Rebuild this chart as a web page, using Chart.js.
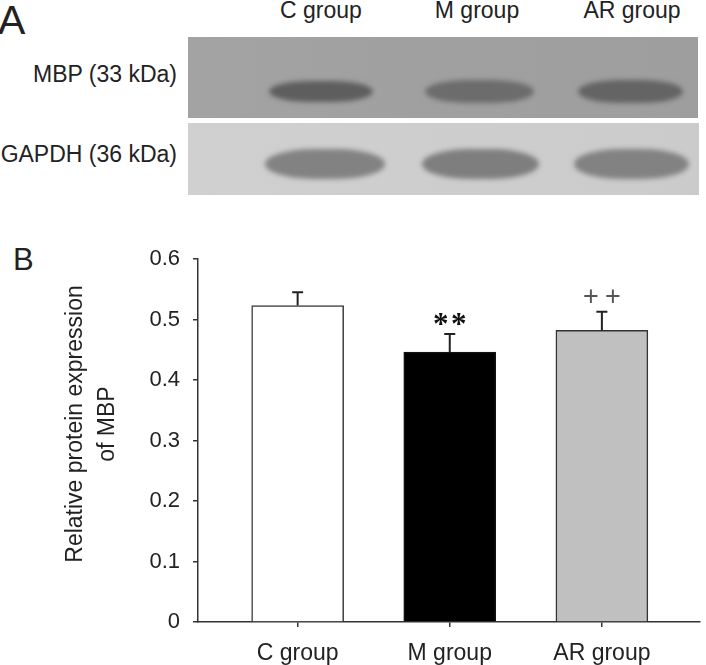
<!DOCTYPE html>
<html><head><meta charset="utf-8">
<script src="https://cdn.jsdelivr.net/npm/chart.js@4.4.0/dist/chart.umd.min.js"></script>
<style>
html,body{margin:0;padding:0;background:#fff;}
#wrap{position:relative;width:706px;height:665px;overflow:hidden;font-family:"Liberation Sans",Arial,sans-serif;color:#222;}
.t{position:absolute;white-space:nowrap;font-size:23px;line-height:23px;}
.c{text-align:center;width:200px;}
.r{text-align:right;width:200px;}
.blot{position:absolute;overflow:hidden;}
#b1{left:188px;top:37px;width:510px;height:81px;background:linear-gradient(90deg,#a3a3a3 0%,#a0a0a0 45%,#9e9e9e 100%);}
#b2{left:188px;top:123px;width:511px;height:72px;background:linear-gradient(90deg,#d0d0d0,#cbcbcb);}
.band{position:absolute;border-radius:40%/50%;filter:blur(2.5px);}
#chart{position:absolute;left:0;top:220px;}
</style></head>
<body>
<div id="wrap">
  <div class="t" style="left:-2px;top:0px;font-size:41px;line-height:41px;">A</div>
  <div class="t c" style="left:221px;top:-1px;">C group</div>
  <div class="t c" style="left:377px;top:-1px;">M group</div>
  <div class="t c" style="left:532px;top:-1px;">AR group</div>
  <div class="t r" style="left:-23px;top:63px;">MBP (33 kDa)</div>
  <div class="t r" style="left:-23px;top:143px;">GAPDH (36 kDa)</div>
  <div class="blot" id="b1">
    <div class="band" style="left:81px;top:44px;width:104px;height:21px;background:#5e5e5e;"></div>
    <div class="band" style="left:237px;top:43px;width:109px;height:23px;background:#6c6c6c;"></div>
    <div class="band" style="left:390px;top:43px;width:105px;height:23px;background:#646464;"></div>
  </div>
  <div class="blot" id="b2">
    <div class="band" style="left:77px;top:26px;width:120px;height:30px;background:#828282;"></div>
    <div class="band" style="left:234px;top:26px;width:117px;height:30px;background:#7e7e7e;"></div>
    <div class="band" style="left:386px;top:26px;width:115px;height:30px;background:#828282;"></div>
  </div>
  <div class="t" style="left:13px;top:244px;font-size:31px;line-height:31px;">B</div>
  <canvas id="chart" width="706" height="445"></canvas>
</div>
<script>
const categories = ['C group', 'M group', 'AR group'];
const meanValues = [0.523, 0.446, 0.482];
const errorValues = [0.022, 0.030, 0.031];
const significance = ['', '**', '++'];
const yTicks = [0, 0.1, 0.2, 0.3, 0.4, 0.5, 0.6];
const yTitle = ['Relative protein expression', 'of MBP'];

const FONT = '"Liberation Sans", Arial, sans-serif';

const overlay = {
  id: 'overlay',
  afterDatasetsDraw(chart) {
    const { ctx, scales: { x, y } } = chart;
    ctx.save();
    meanValues.forEach((m, i) => {
      const px = x.getPixelForValue(i);
      const yTop = y.getPixelForValue(m);
      const yErr = y.getPixelForValue(m + errorValues[i]);
      ctx.strokeStyle = '#222';
      ctx.lineWidth = 2;
      ctx.beginPath();
      ctx.moveTo(px, yTop); ctx.lineTo(px, yErr);
      ctx.moveTo(px - 5.5, yErr); ctx.lineTo(px + 5.5, yErr);
      ctx.stroke();
      const s = significance[i];
      if (s) {
        const glyphs = s.split('');
        const star = glyphs[0] === '*';
        ctx.font = star ? 'bold 31px "Liberation Serif", serif' : '27px ' + FONT;
        ctx.fillStyle = star ? '#111' : '#555';
        ctx.textAlign = 'center';
        ctx.textBaseline = 'alphabetic';
        const gap = star ? 9 : 11;
        const cy = yErr - (star ? 15.5 : 16);
        glyphs.forEach((g, k) => {
          const mt = ctx.measureText(g);
          const gy = cy + (mt.actualBoundingBoxAscent - mt.actualBoundingBoxDescent) / 2;
          ctx.fillText(g, px + (k === 0 ? -gap : gap), gy);
        });
      }
    });
    // y axis title
    ctx.fillStyle = '#222';
    ctx.font = '23px ' + FONT;
    ctx.textAlign = 'center';
    ctx.textBaseline = 'middle';
    ctx.translate(0, 204);
    ctx.rotate(-Math.PI / 2);
    yTitle.forEach((line, k) => {
      ctx.fillText(line, 0, 76 + k * 32);
    });
    ctx.restore();
  }
};

new Chart(document.getElementById('chart'), {
  type: 'bar',
  data: {
    datasets: [{
      data: meanValues.map((v, i) => ({ x: i, y: v })),
      backgroundColor: ['#ffffff', '#000000', '#c0c0c0'],
      borderColor: ['#3a3a3a', '#111111', '#333333'],
      borderWidth: 1.5,
      barThickness: 92
    }]
  },
  options: {
    responsive: false,
    animation: false,
    layout: { padding: { top: 39, right: 6, left: 0, bottom: 0 } },
    plugins: { legend: { display: false }, tooltip: { enabled: false } },
    scales: {
      x: {
        type: 'linear',
        offset: false,
        min: -0.655,
        max: 2.645,
        afterBuildTicks: s => { s.ticks = categories.map((c, i) => ({ value: i })); },
        afterFit: s => { s.height = 43; },
        grid: { display: true, offset: false, drawOnChartArea: false, drawTicks: true, tickLength: 5, color: '#333', lineWidth: 1.5 },
        border: { color: '#333', width: 1.5 },
        ticks: {
          callback: v => categories[v],
          font: { family: FONT, size: 23 },
          color: '#222',
          padding: 13,
          maxRotation: 0,
          autoSkip: false
        }
      },
      y: {
        min: 0,
        max: 0.6,
        afterBuildTicks: s => { s.ticks = yTicks.map(v => ({ value: v })); },
        afterFit: s => { s.width = 198; },
        grid: { display: true, drawOnChartArea: false, drawTicks: true, tickLength: 5, color: '#333', lineWidth: 1.5 },
        border: { color: '#333', width: 1.5 },
        ticks: {
          callback: v => (v === 0 ? '0' : v.toFixed(1)),
          font: { family: FONT, size: 22 },
          color: '#222',
          padding: 13
        }
      }
    }
  },
  plugins: [overlay]
});
</script>
</body></html>
